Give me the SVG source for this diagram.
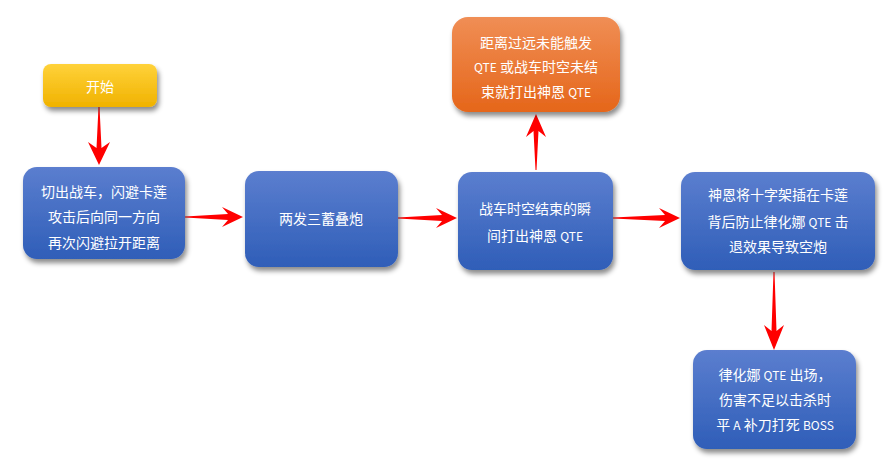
<svg xmlns="http://www.w3.org/2000/svg" width="890" height="465" viewBox="0 0 890 465">
<defs>
<linearGradient id="gb" x1="0" y1="0" x2="0" y2="1"><stop offset="0" stop-color="#5b7ecf"/><stop offset="1" stop-color="#2f5eb8"/></linearGradient>
<linearGradient id="go" x1="0" y1="0" x2="0" y2="1"><stop offset="0" stop-color="#f08e55"/><stop offset="1" stop-color="#e5661a"/></linearGradient>
<linearGradient id="gy" x1="0" y1="0" x2="0" y2="1"><stop offset="0" stop-color="#ffd23a"/><stop offset="1" stop-color="#f0b200"/></linearGradient>
<filter id="sh" x="-20%" y="-20%" width="140%" height="150%"><feDropShadow dx="2" dy="4" stdDeviation="2.5" flood-color="#000" flood-opacity="0.45"/></filter>
<style>
.t{font-family:"Noto Sans CJK SC","Liberation Sans",sans-serif;font-size:14px;fill:#fff;text-anchor:middle}
.s{font-size:12px}
.a{fill:#ff0000}
</style>
</defs>
<g id="connectors">
<polygon class="a" points="98.5,107 99.5,107 101.5,148 110,142 99,165 88,142 96.5,148"/>
<polygon class="a" points="185,216.5 185,217.5 228,220 222,227 243,217 222,207 228,214"/>
<polygon class="a" points="398,217.5 398,218.5 442,221 436,228 457,218 436,208 442,215"/>
<polygon class="a" points="535.5,170 536.5,170 538.5,131 546,137 536,114 526,137 533.5,131"/>
<polygon class="a" points="613,217.5 613,218.5 665,221 659,228 680,218 659,208 665,215"/>
<polygon class="a" points="773.5,272 774.5,272 776.5,331 784,325 774,350 764,325 771.5,331"/>
</g>
<g id="start">
<rect x="43" y="64" width="114" height="43" rx="8" fill="url(#gy)" filter="url(#sh)"/>
<text class="t" x="100" y="92">开始</text>
</g>
<g id="n1">
<rect x="23" y="167" width="162" height="92" rx="14" fill="url(#gb)" filter="url(#sh)"/>
<text class="t" x="104" y="197">切出战车，闪避卡莲</text>
<text class="t" x="104" y="222">攻击后向同一方向</text>
<text class="t" x="104" y="248">再次闪避拉开距离</text>
</g>
<g id="n2">
<rect x="245" y="171" width="153" height="96" rx="14" fill="url(#gb)" filter="url(#sh)"/>
<text class="t" x="321" y="224">两发三蓄叠炮</text>
</g>
<g id="n3">
<rect x="458" y="172" width="155" height="98" rx="14" fill="url(#gb)" filter="url(#sh)"/>
<text class="t" x="535" y="214">战车时空结束的瞬</text>
<text class="t" x="535" y="241">间打出神恩 <tspan class="s">QTE</tspan></text>
</g>
<g id="n_top">
<rect x="452" y="17" width="168" height="95" rx="16" fill="url(#go)" filter="url(#sh)"/>
<text class="t" x="536" y="48">距离过远未能触发</text>
<text class="t" x="536" y="72"><tspan class="s">QTE</tspan> 或战车时空未结</text>
<text class="t" x="536" y="97">束就打出神恩 <tspan class="s">QTE</tspan></text>
</g>
<g id="n4">
<rect x="681" y="172" width="194" height="98" rx="14" fill="url(#gb)" filter="url(#sh)"/>
<text class="t" x="778" y="200">神恩将十字架插在卡莲</text>
<text class="t" x="778" y="227">背后防止律化娜 <tspan class="s">QTE</tspan> 击</text>
<text class="t" x="778" y="252">退效果导致空炮</text>
</g>
<g id="n5">
<rect x="693" y="350" width="163" height="99" rx="14" fill="url(#gb)" filter="url(#sh)"/>
<text class="t" x="775" y="380">律化娜 <tspan class="s">QTE</tspan> 出场，</text>
<text class="t" x="775" y="405">伤害不足以击杀时</text>
<text class="t" x="775" y="430">平 <tspan class="s">A</tspan> 补刀打死 <tspan class="s">BOSS</tspan></text>
</g>
</svg>
